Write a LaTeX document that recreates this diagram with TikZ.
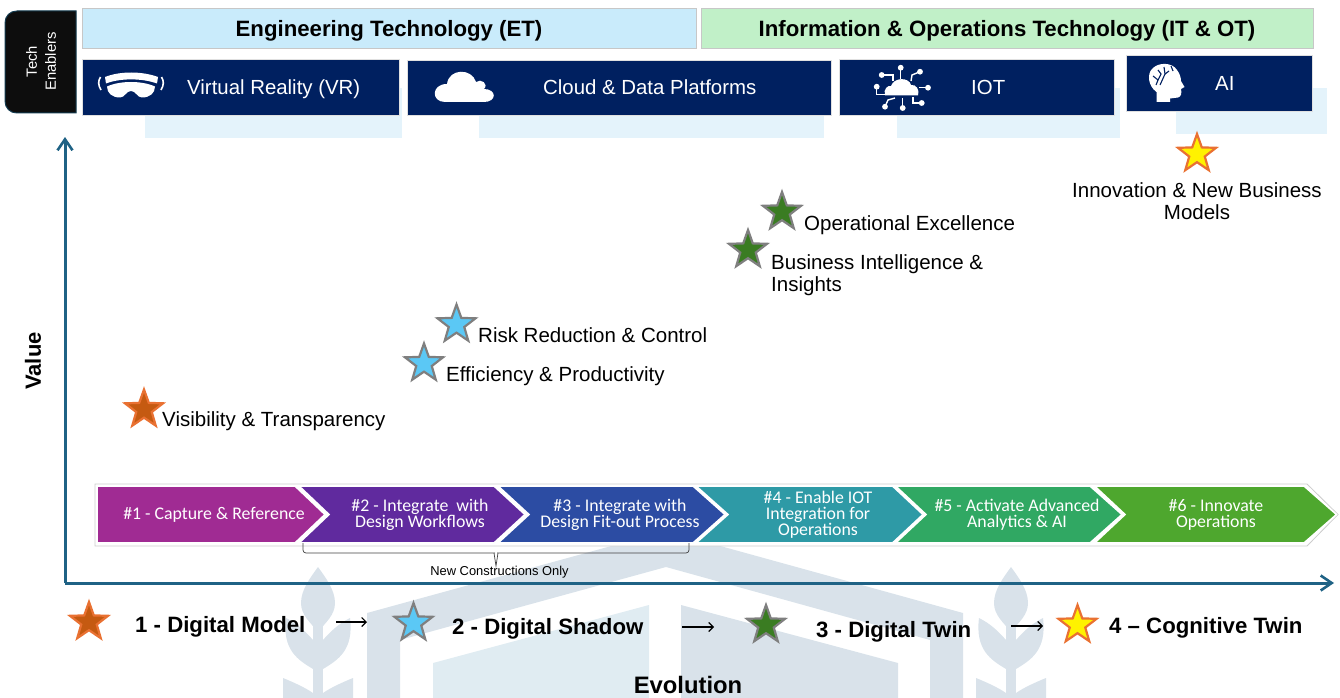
\documentclass[tikz,border=0pt]{standalone}
\usepackage{fontspec}
\setmainfont{Liberation Sans}
\newfontfamily\chevfont{Carlito}
\usetikzlibrary{shapes.geometric,arrows.meta}
\definecolor{navy}{HTML}{002060}
\definecolor{axisc}{HTML}{1F6285}
\definecolor{wmgrey}{HTML}{D9E2EA}
\definecolor{wmlight}{HTML}{E0ECF2}
\definecolor{shade}{HTML}{E4F3FB}
\definecolor{starOrange}{HTML}{C55A11}
\definecolor{starOrangeB}{HTML}{E97132}
\definecolor{starBlue}{HTML}{5BC8F5}
\definecolor{starGreen}{HTML}{3A7C22}
\definecolor{starGrey}{HTML}{7F7F7F}
\definecolor{hdrET}{HTML}{C9EBFB}
\definecolor{hdrIT}{HTML}{C1F0C8}
\newcommand{\sz}[2]{\fontsize{#1}{#2}\selectfont}
\newcommand{\plantmark}[1]{%
  \begin{scope}[shift={(#1,0)}]
    \fill[wmgrey] (0,567) .. controls (-8,578) and (-17,590) .. (-17,603) .. controls (-17,615) and (-8,622) .. (0,632)
       .. controls (8,622) and (17,615) .. (17,603) .. controls (17,590) and (8,578) .. (0,567) -- cycle;
    \fill[wmgrey] (-5,625) rectangle (5,698);
    \foreach \s in {-1,1}{
      \fill[wmgrey] (\s*32,618) .. controls (\s*20,624) and (\s*12,632) .. (\s*5,640) -- (\s*5,669)
        .. controls (\s*20,660) and (\s*36,650) .. (\s*32,618) -- cycle;
      \fill[wmgrey] (\s*35,678) .. controls (\s*25,682) and (\s*12,688) .. (\s*5,693) -- (\s*5,698) -- (\s*35,698) -- cycle;
    }
  \end{scope}}
\tikzset{
  x=1pt,y=-1pt,
  header/.style={draw=black!22,line width=.8pt,minimum height=39.5pt,inner sep=0,outer sep=0,text height=17pt,text depth=1pt,font=\sz{22.2}{26}\bfseries},
  techbox/.style={fill=navy,draw=black!12,line width=.6pt},
  techlabel/.style={text=white,inner sep=0,anchor=base west,font=\sz{20.4}{24}},
  shadebox/.style={fill=shade},
  axisline/.style={draw=axisc,line width=3pt,-{Straight Barb[length=11pt,width=15pt,line width=2.6pt]}},
  starshape/.style={star,star points=5,star point ratio=2.45,minimum size=40pt,inner sep=0,outer sep=0,line width=2.2pt,miter limit=10},
  orangestar/.style={starshape,fill=starOrange,draw=starOrangeB},
  bluestar/.style={starshape,fill=starBlue,draw=starGrey},
  greenstar/.style={starshape,fill=starGreen,draw=starGrey},
  yellowstar/.style={starshape,fill=yellow,draw=starOrangeB},
  benefit/.style={inner sep=0,font=\sz{20.5}{22},text=black,align=left},
  stage/.style={inner sep=0,anchor=base west,font=\sz{22.2}{26}\bfseries},
  stagearrow/.style={draw=black,line width=1.2pt,-{Straight Barb[length=4.5pt,width=9pt,line width=1.1pt]}},
  chevshape/.style={draw=white,line width=1.6pt,line join=miter},
  chevtext/.style={inner sep=0,text=white,align=center,font=\chevfont\sz{17.8}{16}},
  icon/.style={fill=white},
  trace/.style={draw=white,line width=1.4pt},
}
\begin{document}
\begin{tikzpicture}
\useasboundingbox (0,0) rectangle (1340,698);
% watermark
\plantmark{318}
\plantmark{1011}
\fill[wmgrey] (367,698) -- (367,613) -- (666,531) -- (963,613) -- (963,698) -- (930,698) -- (930,640) -- (666,567) -- (400,640) -- (400,698) -- cycle;
\fill[wmlight] (433,698) -- (433,663) -- (649,605) -- (649,698) -- cycle;
\fill[wmgrey] (681,698) -- (681,605) -- (898,663) -- (898,698) -- cycle;
% shadows behind enabler boxes
\fill[shadebox] (145,88) rectangle (402,138);
\fill[shadebox] (479,88) rectangle (824,138);
\fill[shadebox] (897,88) rectangle (1120,138);
\fill[shadebox] (1176,88) rectangle (1327,134);
% tech enablers tab
\path[fill=black!95,draw=axisc!60!black,line width=1pt] (76,113) -- (76,11) -- (17,11) .. controls (10,11) and (5,16) .. (5,23) -- (5,101) .. controls (5,108) and (10,113) .. (17,113) -- cycle;
\node[text=white,rotate=90,align=center,inner sep=0,font=\sz{14.8}{19}] (enablers) at (41,61.5) {Tech\\Enablers};
% headers
\node[header,fill=hdrET,minimum width=614pt] (et) at (389,28.5) {Engineering Technology (ET)};
\node[header,fill=hdrIT,minimum width=612pt] (itot) at (1007,28.5) {Information \& Operations Technology (IT \& OT)};
% enabler boxes
\draw[techbox] (82,59) rectangle (399,115);
\draw[techbox] (407,60) rectangle (831,115);
\draw[techbox] (839,59) rectangle (1114,115);
\draw[techbox] (1126,55) rectangle (1312,111);
\node[techlabel] (vr) at (187,95) {Virtual Reality (VR)};
\node[techlabel] (cloud) at (543,95) {Cloud \& Data Platforms};
\node[techlabel] (iot) at (971,95) {IOT};
\node[techlabel] (ai) at (1215,91) {AI};
% VR icon
\fill[icon] (105,77) .. controls (120,71) and (142,71) .. (158,77) -- (157,83.5) .. controls (142,78) and (120,78) .. (106,83.5) -- cycle;
\fill[icon] (107,86.5) .. controls (120,80.5) and (142,80.5) .. (155,86.5) .. controls (155,93) and (150,97.5) .. (142,97.5) .. controls (137,97.5) and (136,91) .. (131,91) .. controls (126,91) and (125,97.5) .. (120,97.5) .. controls (112,97.5) and (107,93) .. (107,86.5) -- cycle;
\draw[white,line width=1.6pt] (100.5,77) .. controls (98,81) and (98,85) .. (101,90);
\draw[white,line width=1.6pt] (161.5,77) .. controls (164,81) and (164,85) .. (161,90);
% cloud icon
\fill[icon] (445,102) .. controls (431,102) and (431,84) .. (447,84) .. controls (449,68) and (472,68) .. (476,82) .. controls (481,78) and (489,84) .. (484,89) .. controls (497,89) and (497,102) .. (484,102) -- cycle;
% IOT icon
\fill[icon] (885,95.5) .. controls (883,89) and (888,85) .. (891,86) .. controls (894,77) and (909,77) .. (911,85) .. controls (916,84) and (920,90) .. (918,95.5) -- cycle;
\foreach \a/\b in {900.7/67.7,881.7/75,920/71.7,876.7/86.7,928/87.7,885/106.7,902.7/108,921.7/103}{\fill[icon] (\a,\b) circle[radius=2.9];}
\draw[trace] (900.7,67.7) -- (900.7,79);
\draw[trace] (881.7,75) -- (893,75) -- (893,81);
\draw[trace] (920,71.7) -- (912,75) -- (911,81);
\draw[trace] (876.7,86.7) -- (876.7,94.3) -- (885,94.3);
\draw[trace] (928,87.7) -- (919,87.7);
\draw[trace] (885,106.7) -- (888,100) -- (895,98);
\draw[trace] (902.7,108) -- (902.7,98);
\draw[trace] (921.7,103) -- (913,103) -- (913,97);
% AI icon
\fill[icon] (1156.5,102) -- (1156.5,92) .. controls (1148,86) and (1147,74) .. (1152,69) .. controls (1158,62) and (1172,62) .. (1177,70) .. controls (1180,74) and (1181,78) .. (1181,81) -- (1184.5,87) -- (1181,89) .. controls (1182,93) and (1181,97) .. (1178,97.5) -- (1170,98.5) -- (1170,102) -- cycle;
\draw[navy,line width=1.1pt] (1153,76) -- (1158,80) -- (1156,85);
\draw[navy,line width=1.1pt] (1158,80) -- (1161,74) -- (1158,70);
\draw[navy,line width=1.1pt] (1164,67) -- (1165,74) -- (1160,85);
\draw[navy,line width=1.1pt] (1165,74) -- (1169,71);
\draw[navy,line width=1.1pt] (1171,66) -- (1173,71);
% axes
\coordinate (origin) at (65,583);
\coordinate (ytip) at (65,137);
\coordinate (xtip) at (1334,583);
\draw[axisline] (origin) -- (ytip);
\draw[axisline] (origin) -- (xtip);
\node[rotate=90,inner sep=0,font=\sz{22}{26}\bfseries] (value) at (33,361) {Value};
\node[inner sep=0,font=\sz{23.8}{28}\bfseries] (evolution) at (688,685) {Evolution};
% chevron track
\draw[fill=white,draw=black!20,line width=.8pt] (95,484) -- (1307,484) -- (1338,514.5) -- (1307,546) -- (95,546) -- cycle;
\filldraw[chevshape,fill={rgb,255:red,160;green,43;blue,147}] (97,486) -- (295,486) -- (325,514.5) -- (295,543) -- (97,543) -- cycle;
\filldraw[chevshape,fill={rgb,255:red,96;green,42;blue,158}] (299,486) -- (494,486) -- (525,514.5) -- (494,543) -- (299,543) -- (329,514.5) -- cycle;
\filldraw[chevshape,fill={rgb,255:red,44;green,76;blue,163}] (498,486) -- (693,486) -- (725,514.5) -- (693,543) -- (498,543) -- (529,514.5) -- cycle;
\filldraw[chevshape,fill={rgb,255:red,46;green,154;blue,166}] (696,486) -- (892.5,486) -- (923,514.5) -- (892.5,543) -- (696,543) -- (728,514.5) -- cycle;
\filldraw[chevshape,fill={rgb,255:red,48;green,168;blue,99}] (895.5,486) -- (1090,486) -- (1122,514.5) -- (1090,543) -- (895.5,543) -- (926,514.5) -- cycle;
\filldraw[chevshape,fill={rgb,255:red,78;green,167;blue,46}] (1094.5,486) -- (1304,486) -- (1336.5,514.5) -- (1304,543) -- (1094.5,543) -- (1125,514.5) -- cycle;
\node[chevtext] (c1) at (214,515) {\#1 - Capture \& Reference};
\node[chevtext] (c2) at (420,515) {\#2 - Integrate\ \ with\\Design Workflows};
\node[chevtext] (c3) at (620,515) {\#3 - Integrate with\\Design Fit-out Process};
\node[chevtext] (c4) at (818,515) {\#4 - Enable IOT\\Integration for\\Operations};
\node[chevtext] (c5) at (1017,515) {\#5 - Activate Advanced\\Analytics \& AI};
\node[chevtext] (c6) at (1216,515) {\#6 - Innovate\\Operations};
% bracket
\draw[black!75,line width=.7pt,rounded corners=3pt] (303,543) -- (303,553) -- (495,553);
\draw[black!75,line width=.7pt,rounded corners=3pt] (689,543) -- (689,553) -- (497,553);
\draw[black!75,line width=.7pt] (494,553) -- (496,566) -- (498,553);
\node[inner sep=0,font=\sz{12.9}{15}] (newc) at (499.5,572) {New Constructions Only};
% value stars and labels
\node[orangestar] (s1) at (144,409.5) {};
\node[bluestar] (s2) at (456.5,324.5) {};
\node[bluestar] (s3) at (424,363.5) {};
\node[greenstar] (s4) at (782,212) {};
\node[greenstar] (s5) at (748,250) {};
\node[yellowstar] (s6) at (1197,154) {};
\node[benefit,anchor=base west] (b1) at (162,426.5) {Visibility \& Transparency};
\node[benefit,anchor=base west] (b2) at (478,342) {Risk Reduction \& Control};
\node[benefit,anchor=base west] (b3) at (446,381) {Efficiency \& Productivity};
\node[benefit,anchor=base west] (b4) at (804,230) {Operational Excellence};
\node[benefit,anchor=north west] (b5) at (771,254) {Business Intelligence \&\\Insights};
\node[benefit,anchor=north,align=center] (b6) at (1197,182) {Innovation \& New Business\\Models};
% stage row
\node[orangestar] (t1) at (89,622) {};
\node[bluestar] (t2) at (413.5,623) {};
\node[greenstar] (t3) at (766,625) {};
\node[yellowstar] (t4) at (1077.5,625) {};
\node[stage] (l1) at (135,632) {1 - Digital Model};
\node[stage] (l2) at (452,634) {2 - Digital Shadow};
\node[stage] (l3) at (816,637) {3 - Digital Twin};
\node[stage] (l4) at (1109,633) {4 – Cognitive Twin};
\coordinate (a1s) at (336,622); \coordinate (a1e) at (367,622);
\coordinate (a2s) at (682,627); \coordinate (a2e) at (714,627);
\coordinate (a3s) at (1011,626); \coordinate (a3e) at (1043,626);
\draw[stagearrow] (a1s) -- (a1e);
\draw[stagearrow] (a2s) -- (a2e);
\draw[stagearrow] (a3s) -- (a3e);
\end{tikzpicture}
\end{document}
